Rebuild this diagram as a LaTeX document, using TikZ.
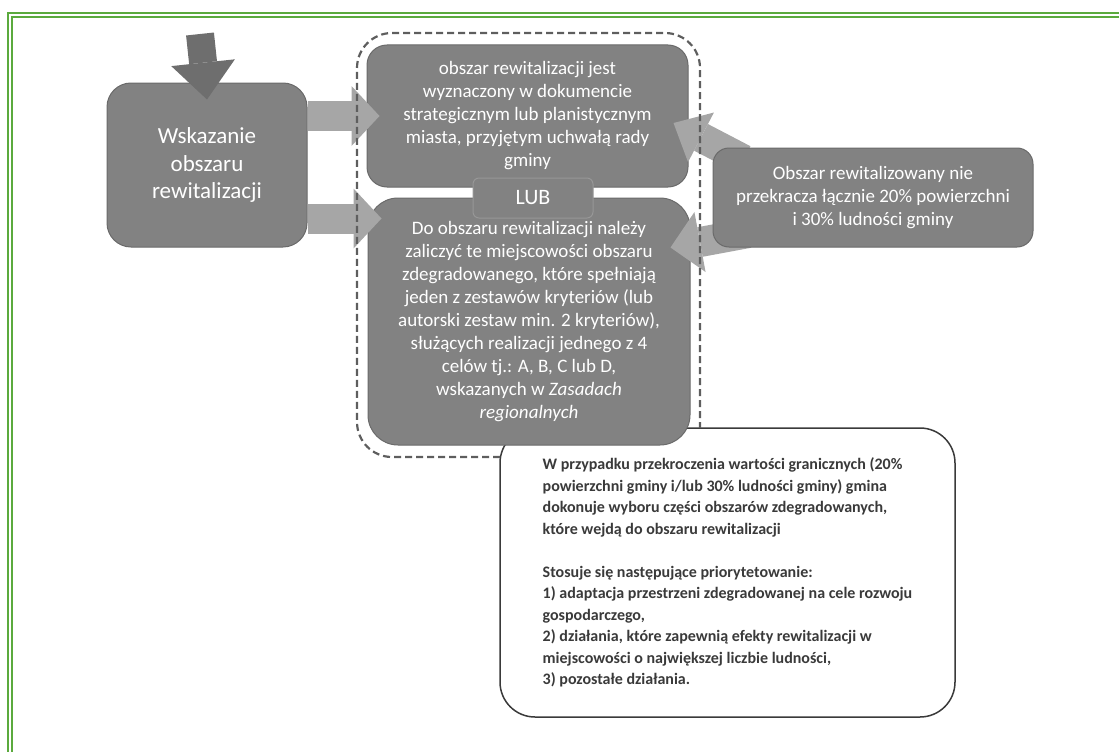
\documentclass[tikz,border=0pt]{standalone}
\usepackage{fontspec}
\setmainfont{Carlito}
\usepackage{tikz}
\usetikzlibrary{arrows.meta,calc}

\definecolor{framegreen}{HTML}{5BAA3D}
\definecolor{boxgrey}{HTML}{828282}
\definecolor{boxedge}{HTML}{6A6A6A}
\definecolor{arrgrey}{HTML}{A6A6A6}
\definecolor{downgrey}{HTML}{6E6E6E}
\definecolor{dashgrey}{HTML}{5E5E5E}
\definecolor{notegrey}{HTML}{3A3A3A}

\pgfdeclarelayer{front}
\pgfsetlayers{main,front}

\tikzset{
  greybox/.style={draw=boxedge, fill=boxgrey, line width=1pt, rounded corners=20pt,
    inner sep=0pt, text=white, align=center, font=\fontsize{19}{23}\selectfont},
  fatarrow/.style={arrgrey, line width=30pt, -{Triangle[length=28pt,width=60pt,line width=0pt]}},
  frameline/.style={framegreen, line width=1.8pt},
}

\begin{document}
\begin{tikzpicture}[x=1pt,y=-1pt]
\useasboundingbox (0,0) rectangle (1119,752);

% green frame
\draw[frameline] (8,752) -- (8,13) -- (1119,13);
\draw[frameline] (12,752) -- (12,17) -- (1119,17);

% note box (under the grey ones)
\draw (727.5,572.5) node[draw=notegrey, line width=1.5pt, fill=white, rounded corners=35pt,
    minimum width=455pt, minimum height=289pt, inner sep=0pt, align=left, text=notegrey,
    font=\bfseries\fontsize{16}{21.5}\selectfont] (wht)
  {W przypadku przekroczenia wartości granicznych (20\%\\
   powierzchni gminy i/lub 30\% ludności gminy) gmina\\
   dokonuje wyboru części obszarów zdegradowanych,\\
   które wejdą do obszaru rewitalizacji\\[21.5pt]
   Stosuje się następujące priorytetowanie:\\
   1) adaptacja przestrzeni zdegradowanej na cele rozwoju\\
   gospodarczego,\\
   2) działania, które zapewnią efekty rewitalizacji w\\
   miejscowości o największej liczbie ludności,\\
   3) pozostałe działania.};

% grey boxes
\draw (527.5,116) node[greybox, minimum width=321pt, minimum height=142pt] (topbox)
  {obszar rewitalizacji jest\\ wyznaczony w dokumencie\\ strategicznym lub planistycznym\\
   miasta, przyjętym uchwałą rady\\ gminy};
\draw (529,321.5) node[greybox, rounded corners=30pt, minimum width=322pt, minimum height=247pt] (botbox)
  {Do obszaru rewitalizacji należy\\ zaliczyć te miejscowości obszaru\\ zdegradowanego, które spełniają\\
   jeden z zestawów kryteriów (lub\\ autorski zestaw min. 2 kryteriów),\\ służących realizacji jednego z 4\\
   celów tj.: A, B,  C lub D,\\ wskazanych w \textit{Zasadach}\\ \textit{regionalnych}};
\draw (533,198) node[greybox, rounded corners=6pt, draw=boxedge!70, minimum width=120pt, minimum height=40pt,
    font=\fontsize{22}{26}\selectfont] (lub) {LUB};
\draw (207,165) node[greybox, rounded corners=24pt, minimum width=200pt, minimum height=164pt,
    font=\fontsize{23}{27.5}\selectfont] (wsk) {Wskazanie\\ obszaru\\ rewitalizacji};

\begin{pgfonlayer}{front}
\draw (873,197.5) node[greybox, rounded corners=16pt, minimum width=320pt, minimum height=99pt] (rgt)
  {Obszar rewitalizowany nie\\ przekracza łącznie 20\% powierzchni\\ i 30\% ludności gminy};

% dashed frame round both options
\draw[dashgrey, line width=2.2pt, dash pattern=on 7pt off 4pt, rounded corners=35pt]
  (500,457) -- (357,457) -- (357,33) -- (700,33) -- (700,428);
\end{pgfonlayer}

% arrows
\coordinate (start) at (200,34);
\draw[downgrey, line width=28pt, -{Triangle[length=37pt,width=64pt,line width=0pt]}]
  (start) -- ($(wsk.north)+(0,17)$);
\draw[fatarrow] (wsk.east |- topbox.west) -- ($(topbox.west)+(13,0)$);
\draw[fatarrow] (wsk.east |- lub.south) -- ($(botbox.west |- lub.south)+(14,0)$);
\draw[fatarrow, -{Triangle[length=31pt,width=56pt,line width=0pt]}]
  ($(rgt.north west)+(31,12)$) -- ($(topbox.east)+(-15,7)$);
\draw[fatarrow, -{Triangle[length=30pt,width=61pt,line width=0pt]}]
  ($(rgt.west)+(36,35.5)$) -- ($(botbox.north east)+(-20,50)$);

\end{tikzpicture}
\end{document}
